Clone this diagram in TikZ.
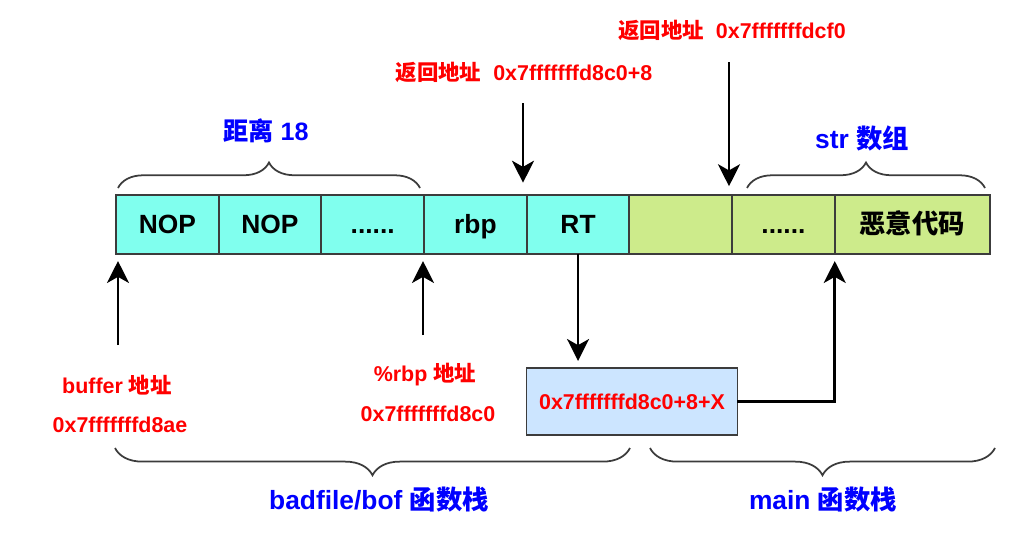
\documentclass[tikz,border=0pt]{standalone}
\usepackage{fontspec}
\setmainfont{Liberation Sans}
\newfontfamily\cjk{Noto Sans CJK SC}
\usetikzlibrary{arrows.meta,decorations.pathreplacing,calc}
\definecolor{cyancell}{HTML}{80FFEE}
\definecolor{greencell}{HTML}{CDEB8B}
\definecolor{boxblue}{HTML}{CCE5FF}
\definecolor{cellborder}{HTML}{3C3C3C}
\definecolor{bracecol}{HTML}{3C3C3C}
\tikzset{
  cell/.style={draw=cellborder, line width=1.1pt, minimum height=1.18cm, anchor=west,
    outer sep=0pt, inner sep=0pt, text height=10.75pt, text depth=0pt,
    font=\fontsize{15}{18}\selectfont\bfseries},
  nopcell/.style={cell, fill=cyancell, minimum width=2.054cm},
  grncell/.style={cell, fill=greencell, minimum width=2.054cm},
  redlbl/.style={text=red, font=\fontsize{12.2}{14}\selectfont\bfseries, inner sep=0pt},
  bluelbl/.style={text=blue, font=\fontsize{15}{18}\selectfont\bfseries, inner sep=0pt},
  arr/.style={-{Stealth[length=12.5pt,width=12.5pt,inset=3.5pt]}, line width=1.5pt},
  brc/.style={decorate, decoration={brace, amplitude=#1}, draw=bracecol, line width=1pt},
  brc/.default=14.5pt
}
\begin{document}
\begin{tikzpicture}[x=0.02cm,y=-0.02cm]
\useasboundingbox (0,0) rectangle (1036,534);
% cells
\node[nopcell] (c1) at (116,224.5) {NOP};
\node[nopcell] (c2) at (c1.east) {NOP};
\node[nopcell] (c3) at (c2.east) {......};
\node[nopcell] (c4) at (c3.east) {rbp};
\node[nopcell] (c5) at (c4.east) {RT};
\node[grncell] (c6) at (c5.east) {};
\node[grncell] (c7) at (c6.east) {......};
\node[cell, fill=greencell, minimum width=3.1cm] (c8) at (c7.east) {\cjk 恶意代码};
% top braces and labels
\draw[brc] (118,188) -- (420,188);
\node[bluelbl, font=\fontsize{14.3}{17}\selectfont\bfseries] (dist) at (266,131) {{\cjk 距离} 18};
\draw[brc] (747,188) -- (985,188);
\node[bluelbl] (str) at (862,138) {str {\cjk 数组}};
% return address labels and arrows
\node[redlbl] (ret1) at (524,72) {{\cjk 返回地址}\ \ 0x7fffffffd8c0+8};
\coordinate (s1) at (523,103);
\draw[arr] (s1) -- ([yshift=7pt]s1 |- c5.north);
\node[redlbl] (ret2) at (732,30) {{\cjk 返回地址}\ \ 0x7fffffffdcf0};
\coordinate (s2) at (729,62);
\draw[arr] (s2) -- ([yshift=5pt]s2 |- c7.north);
% bottom-left labels and up arrows
\coordinate (s3) at (118,345);
\draw[arr] (s3) -- ([yshift=-4pt]s3 |- c1.south);
\node[redlbl] (buf) at (117,385) {buffer {\cjk 地址}};
\node[redlbl] (bufa) at (120,425) {0x7fffffffd8ae};
\coordinate (s4) at (423,335);
\draw[arr] (s4) -- ([yshift=-4pt]s4 |- c3.south);
\node[redlbl] (rbp) at (425,375) {\%rbp {\cjk 地址}};
\node[redlbl] (rbpa) at (428,414) {0x7fffffffd8c0};
% target box
\node[draw=cellborder, line width=1.1pt, fill=boxblue, minimum width=4.22cm, minimum height=1.34cm,
  inner sep=0pt, outer sep=0pt, text=red, font=\fontsize{12.2}{14}\selectfont\bfseries] (tgt) at (632,401.5) {0x7fffffffd8c0+8+X};
\draw[arr] (c5.south) -- ([yshift=4pt]c5.south |- tgt.north);
\draw[arr] (tgt.east) -| ([yshift=-4pt]c8.south west);
% bottom braces
\draw[brc=15.5pt] (630,448) -- (115,448);
\draw[brc=15.5pt] (995,448) -- (650,448);
\node[bluelbl] (bof) at (379,500) {badfile/bof {\cjk 函数栈}};
\node[bluelbl] (mainl) at (823,500) {main {\cjk 函数栈}};
\end{tikzpicture}
\end{document}
